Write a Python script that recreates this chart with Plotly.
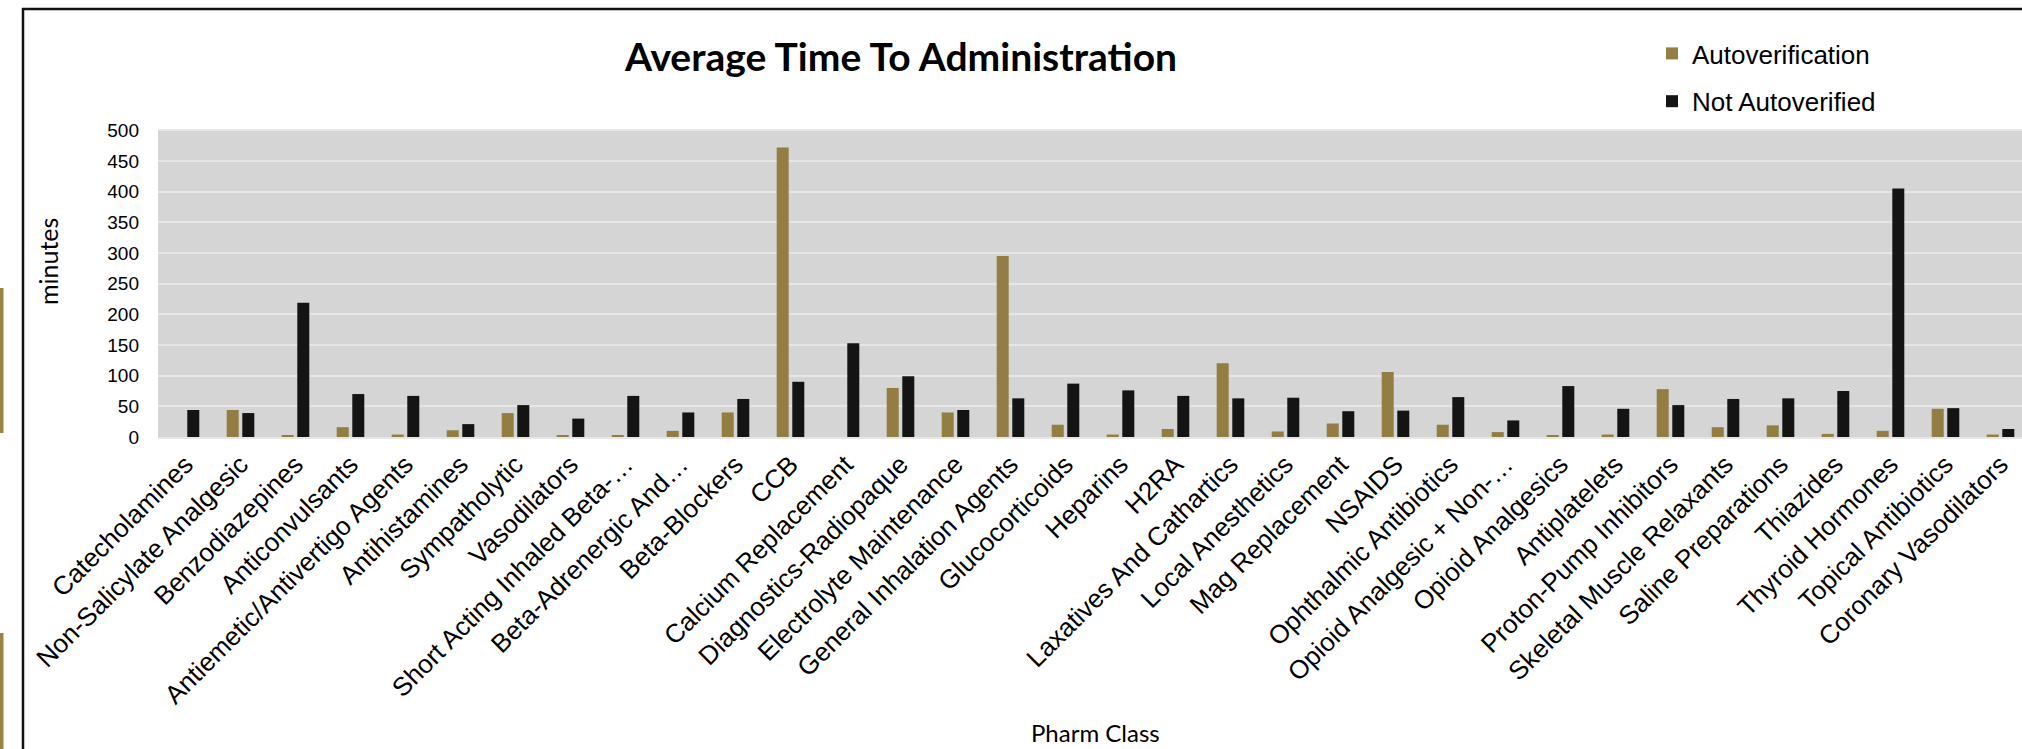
import plotly.graph_objects as go

categories = [
    "Catecholamines", "Non-Salicylate Analgesic", "Benzodiazepines", "Anticonvulsants",
    "Antiemetic/Antivertigo Agents", "Antihistamines", "Sympatholytic", "Vasodilators",
    "Short Acting Inhaled Beta-…", "Beta-Adrenergic And…", "Beta-Blockers", "CCB",
    "Calcium Replacement", "Diagnostics-Radiopaque", "Electrolyte Maintenance",
    "General Inhalation Agents", "Glucocorticoids", "Heparins", "H2RA",
    "Laxatives And Cathartics", "Local Anesthetics", "Mag Replacement", "NSAIDS",
    "Ophthalmic Antibiotics", "Opioid Analgesic + Non-…", "Opioid Analgesics",
    "Antiplatelets", "Proton-Pump Inhibitors", "Skeletal Muscle Relaxants",
    "Saline Preparations", "Thiazides", "Thyroid Hormones", "Topical Antibiotics",
    "Coronary Vasodilators",
]

autoverification = [
    0, 44, 3, 16, 4, 11, 39, 2, 3, 10, 40, 472, 0, 80, 40, 295, 20,
    4, 13, 120, 9, 22, 106, 20, 8, 3, 4, 78, 16, 19, 5, 10, 46, 4,
]

not_autoverified = [
    44, 39, 219, 70, 67, 21, 52, 30, 67, 40, 62, 90, 153, 99, 44, 63, 87,
    76, 67, 63, 64, 42, 43, 65, 27, 83, 46, 52, 62, 63, 75, 405, 47, 13,
]

y_ticks = [0, 50, 100, 150, 200, 250, 300, 350, 400, 450, 500]

GOLD = "#937d43"
BLACK = "#141414"

fig = go.Figure()
fig.add_trace(go.Bar(
    x=categories, y=autoverification, name="Autoverification",
    marker=dict(color=GOLD, line=dict(width=0)),
    legendgroup="a",
))
fig.add_trace(go.Bar(
    x=categories, y=not_autoverified, name="Not Autoverified",
    marker=dict(color=BLACK, line=dict(width=0)),
    legendgroup="b",
))

W, H = 2022, 749
L, T, B = 158, 129, 437

def px(xp):
    return (xp - L) / (W - L)

def py(yp):
    return (B - yp) / (B - T)

fig.update_layout(
    width=W, height=H,
    margin=dict(l=L, r=0, t=T, b=H - B, pad=0),
    paper_bgcolor="white",
    plot_bgcolor="#d5d5d5",
    barmode="group",
    bargap=0.433,
    bargroupgap=0.23,
    font=dict(family="Liberation Sans, Arial, sans-serif", color="#000000"),
    title=dict(
        text="<b>Average Time To Administration</b>",
        font=dict(family="Lato, sans-serif", size=39, color="#000000"),
        xref="container", yref="container",
        x=901 / W, y=1 - 57 / H, xanchor="center", yanchor="middle",
    ),
    legend=dict(
        font=dict(family="Liberation Sans, Arial, sans-serif", size=26, color="#000000"),
        x=px(1652), y=py(30), xanchor="left", yanchor="top",
        bgcolor="rgba(0,0,0,0)",
        traceorder="grouped", tracegroupgap=11,
        itemclick=False,
    ),
    showlegend=True,
)

fig.update_xaxes(
    type="category",
    range=[-0.5, -0.5 + (W - L) / 55.0],
    tickangle=-45,
    tickfont=dict(family="Liberation Sans, Arial, sans-serif", size=26, color="#000000"),
    showgrid=False,
    showline=True, linecolor="#e6e6e6", linewidth=2,
    ticks="", automargin=False,
)
fig.update_yaxes(
    range=[0, 502],
    tickvals=y_ticks,
    tickfont=dict(family="Liberation Sans, Arial, sans-serif", size=19, color="#000000"),
    showgrid=True, gridcolor="#e6e6e6", gridwidth=1.5,
    zeroline=False,
    ticks="", ticklabelstandoff=18,
    automargin=False,
)

fig.add_annotation(
    text="minutes", xref="paper", yref="paper",
    x=px(48), y=py(262), textangle=-90, showarrow=False,
    xanchor="center", yanchor="middle",
    font=dict(family="Lato, sans-serif", size=25, color="#000000"),
)
fig.add_annotation(
    text="Pharm Class", xref="paper", yref="paper",
    x=px(1095), y=py(732), showarrow=False,
    xanchor="center", yanchor="middle",
    font=dict(family="Lato, sans-serif", size=24, color="#000000"),
)

# slide frame and decorations
fig.add_shape(type="line", xref="paper", yref="paper",
              x0=px(23), x1=px(23), y0=py(8), y1=py(760),
              line=dict(color="#111111", width=2.5), layer="above")
fig.add_shape(type="line", xref="paper", yref="paper",
              x0=px(22), x1=px(2030), y0=py(9), y1=py(9),
              line=dict(color="#111111", width=2.5), layer="above")
fig.add_shape(type="rect", xref="paper", yref="paper",
              x0=px(-2), x1=px(3.5), y0=py(288), y1=py(433),
              line=dict(width=0), fillcolor="#9a8447", layer="above")
fig.add_shape(type="rect", xref="paper", yref="paper",
              x0=px(-2), x1=px(3.5), y0=py(633), y1=py(760),
              line=dict(width=0), fillcolor="#9a8447", layer="above")

fig.write_html("out.html")
